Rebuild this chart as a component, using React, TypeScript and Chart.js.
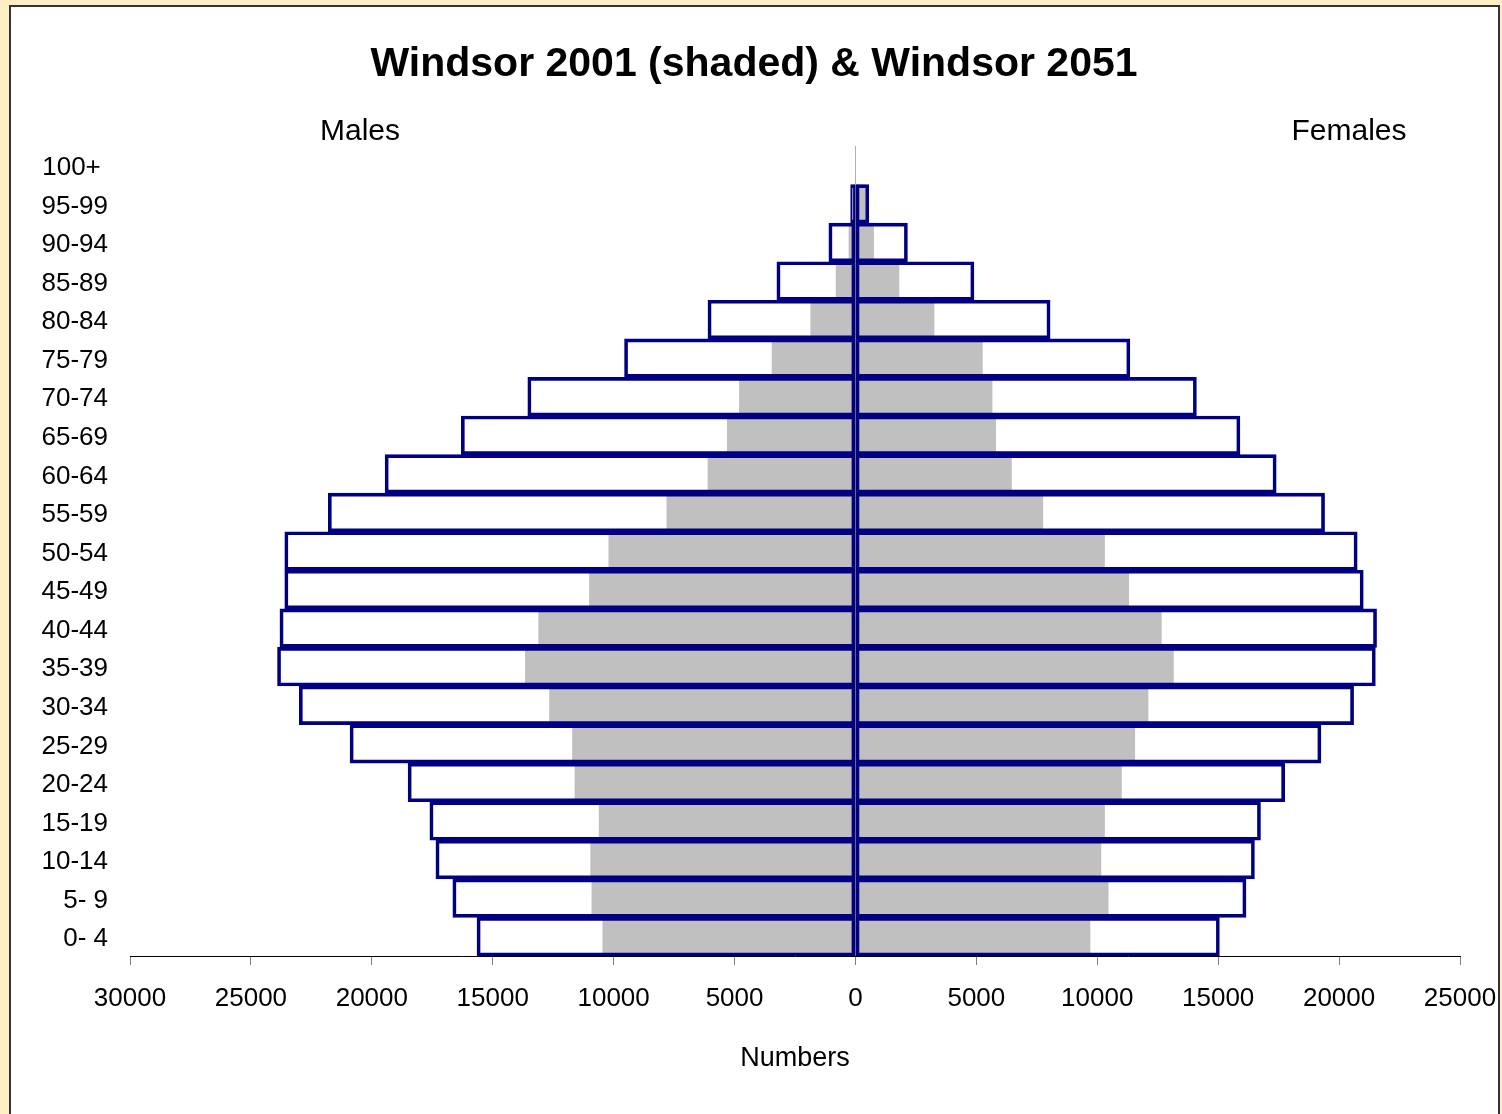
import React, { useEffect, useRef } from "react";
import { Chart, registerables } from "chart.js";

Chart.register(...registerables);

const ageGroups = ["0- 4", "5- 9", "10-14", "15-19", "20-24", "25-29", "30-34", "35-39", "40-44", "45-49", "50-54", "55-59", "60-64", "65-69", "70-74", "75-79", "80-84", "85-89", "90-94", "95-99", "100+ "];

const males2051 = [15650, 16650, 17350, 17600, 18500, 20900, 23000, 23900, 23800, 23600, 23600, 21800, 19450, 16300, 13550, 9550, 6100, 3250, 1100, 200, 0];
const females2051 = [15050, 16150, 16500, 16750, 17750, 19250, 20600, 21500, 21550, 21000, 20750, 19400, 17400, 15900, 14100, 11350, 8050, 4900, 2150, 550, 0];
const males2001 = [10450, 10900, 10950, 10600, 11600, 11700, 12650, 13650, 13100, 11000, 10200, 7800, 6100, 5300, 4800, 3450, 1850, 800, 270, 60, 0];
const females2001 = [9700, 10450, 10150, 10300, 11000, 11550, 12100, 13150, 12650, 11300, 10300, 7750, 6450, 5800, 5650, 5250, 3250, 1800, 750, 400, 0];

const titleText = "Windsor 2001 (shaded) & Windsor 2051";
const sideLabels = ["Males", "Females"];
const axisTitle = "Numbers";

const FONT = "'Liberation Sans', Arial, sans-serif";
const NAVY = "#000080";
const GREY = "#C0C0C0";

const framePlugin = {
  id: "frame",
  beforeDraw(chart: any) {
    const { ctx, width, height } = chart;
    ctx.save();
    ctx.fillStyle = "#FFEFC2";
    ctx.fillRect(0, 0, width, height);
    ctx.fillStyle = "#FFFFFF";
    ctx.fillRect(10, 6, 1489, height);
    ctx.strokeStyle = "#333333";
    ctx.lineWidth = 2;
    ctx.beginPath();
    ctx.moveTo(10, height + 10);
    ctx.lineTo(10, 6);
    ctx.lineTo(1499, 6);
    ctx.lineTo(1499, height + 10);
    ctx.stroke();
    ctx.restore();
  },
  afterDraw(chart: any) {
    const { ctx } = chart;
    ctx.save();
    ctx.fillStyle = "#000";
    ctx.font = `30px ${FONT}`;
    ctx.textAlign = "center";
    ctx.textBaseline = "middle";
    ctx.fillText(sideLabels[0], 360, 132);
    ctx.fillText(sideLabels[1], 1349, 132);
    ctx.restore();
  },
};

export default function App() {
  const ref = useRef<HTMLCanvasElement | null>(null);

  useEffect(() => {
    if (!ref.current) return;
    const common = {
      barPercentage: 1,
      categoryPercentage: 1,
      grouped: false,
    };
    const chart = new Chart(ref.current, {
      type: "bar",
      data: {
        labels: ageGroups,
        datasets: [
          {
            label: "Males 2051",
            data: males2051.map((v) => -v),
            backgroundColor: "rgba(0,0,0,0)",
            borderColor: NAVY,
            borderWidth: 3,
            borderSkipped: false,
            ...common,
          },
          {
            label: "Females 2051",
            data: females2051,
            backgroundColor: "rgba(0,0,0,0)",
            borderColor: NAVY,
            borderWidth: 3,
            borderSkipped: false,
            ...common,
          },
          {
            label: "Males 2001",
            data: males2001.map((v) => -v),
            backgroundColor: GREY,
            borderWidth: 0,
            ...common,
          },
          {
            label: "Females 2001",
            data: females2001,
            backgroundColor: GREY,
            borderWidth: 0,
            ...common,
          },
        ] as any,
      },
      options: {
        indexAxis: "y",
        responsive: false,
        animation: false,
        layout: { padding: { left: 6, right: 0, top: 0, bottom: 38.8 } },
        plugins: {
          legend: { display: false },
          tooltip: { enabled: false },
          title: {
            display: true,
            text: titleText,
            color: "#000",
            font: { family: FONT, size: 41, weight: "bold" },
            padding: { top: 40.4, bottom: 56.4 },
          },
        },
        scales: {
          x: {
            type: "linear",
            min: -30000,
            max: 25000,
            ticks: {
              stepSize: 5000,
              color: "#000",
              padding: 18,
              maxRotation: 0,
              autoSkip: false,
              font: { family: FONT, size: 26 },
              callback: (v: any) => String(Math.abs(Number(v))),
            },
            grid: {
              display: true,
              drawOnChartArea: true,
              drawTicks: true,
              tickLength: 9,
              tickColor: "#808080",
              lineWidth: 1,
              color: (c: any) => (c.tick && c.tick.value === 0 ? "#404040" : "rgba(0,0,0,0)"),
            },
            border: { display: true, color: "#000", width: 1 },
            title: {
              display: true,
              text: axisTitle,
              color: "#000",
              font: { family: FONT, size: 27 },
              padding: { top: 10.6, bottom: 0 },
            },
            afterFit: (scale: any) => {
              scale.paddingLeft = 0;
              scale.paddingRight = 42;
            },
          },
          y: {
            type: "category",
            reverse: true,
            ticks: {
              color: "#000",
              padding: 22,
              labelOffset: 2.5,
              autoSkip: false,
              font: { family: FONT, size: 26 },
            },
            grid: { display: false, drawTicks: false },
            border: { display: false },
            afterFit: (scale: any) => {
              scale.width = 124;
            },
          },
        },
      } as any,
      plugins: [framePlugin],
    });
    return () => chart.destroy();
  }, []);

  return (
    <div style={{ position: "fixed", top: 0, left: 0, width: 1502, height: 1114, overflow: "hidden" }}>
      <canvas ref={ref} width={1502} height={1114} style={{ display: "block", width: 1502, height: 1114 }} />
    </div>
  );
}
